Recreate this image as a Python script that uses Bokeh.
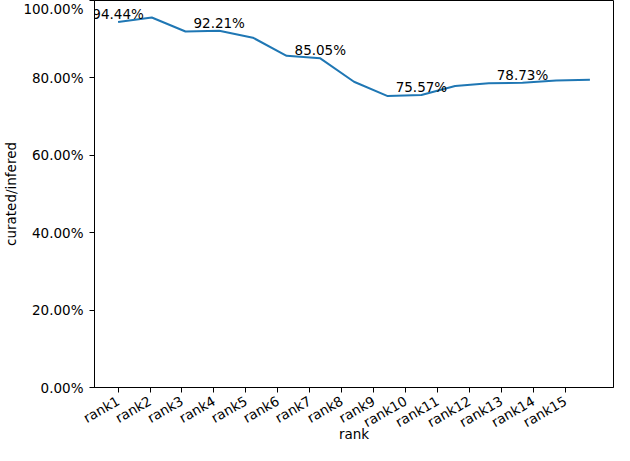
import math
from bokeh.plotting import figure
from bokeh.models import FixedTicker, PrintfTickFormatter, CustomJSTickFormatter, Range1d, ColumnDataSource
from bokeh.core.properties import value
from bokeh.embed import file_html
from bokeh.resources import INLINE

ranks = [f"rank{i}" for i in range(1, 16)]
ratio = [94.44, 95.6, 92.0, 92.21, 90.4, 85.7, 85.05, 79.0, 75.3, 75.57, 77.9, 78.6, 78.73, 79.3, 79.5]
label_idx = [0, 3, 6, 9, 12]
y_ticks = [0, 20, 40, 60, 80, 100]
tick_step = 0.948
x_title = "rank"
y_title = "curated/infered"

FONT = "DejaVu Sans"
FS = "13.5px"

xs = list(range(len(ranks)))
x_lo, x_hi = -0.7, len(ranks) - 1 + 0.7
p = figure(width=614, height=445, output_backend="svg", toolbar_location=None,
           x_range=Range1d(x_lo, x_hi), y_range=Range1d(0, 100),
           min_border_left=0, min_border_right=1, min_border_top=0, min_border_bottom=0)
p.background_fill_color = "white"
p.border_fill_color = "white"
p.outline_line_color = "black"
p.outline_line_width = 1
p.xgrid.visible = False
p.ygrid.visible = False

p.line(xs, ratio, line_color="#1f77b4", line_width=2)

src = ColumnDataSource(dict(x=[xs[i] for i in label_idx], y=[ratio[i] for i in label_idx],
                            t=[f"{ratio[i]:.2f}%" for i in label_idx]))
p.text(x="x", y="y", text="t", source=src, text_align="center", text_baseline="bottom",
       text_font=value(FONT), text_font_size=value(FS), text_color="black")

# x axis
p.xaxis.ticker = FixedTicker(ticks=[i * tick_step for i in range(len(ranks))])
p.xaxis.formatter = CustomJSTickFormatter(args=dict(labels=ranks, step=tick_step),
                                          code="return labels[Math.round(tick/step)];")
p.xaxis.major_label_orientation = math.pi / 6
p.xaxis.axis_label = x_title

# y axis
p.yaxis.ticker = FixedTicker(ticks=y_ticks)
p.yaxis.formatter = PrintfTickFormatter(format="%.2f%%")
p.yaxis.axis_label = y_title

for ax in (p.xaxis, p.yaxis):
    ax.minor_tick_line_color = None
    ax.major_tick_in = 0
    ax.major_tick_out = 5
    ax.major_tick_line_color = "black"
    ax.axis_line_color = "black"
    ax.major_label_text_font = FONT
    ax.major_label_text_font_size = FS
    ax.major_label_text_color = "black"
    ax.axis_label_text_font = FONT
    ax.axis_label_text_font_size = FS
    ax.axis_label_text_font_style = "normal"
    ax.axis_label_text_color = "black"

p.yaxis.major_label_standoff = 6
p.yaxis.axis_label_standoff = 1
p.xaxis.major_label_standoff = 7
p.xaxis.axis_label_standoff = -14

open("out.html", "w").write(file_html(p, INLINE))
